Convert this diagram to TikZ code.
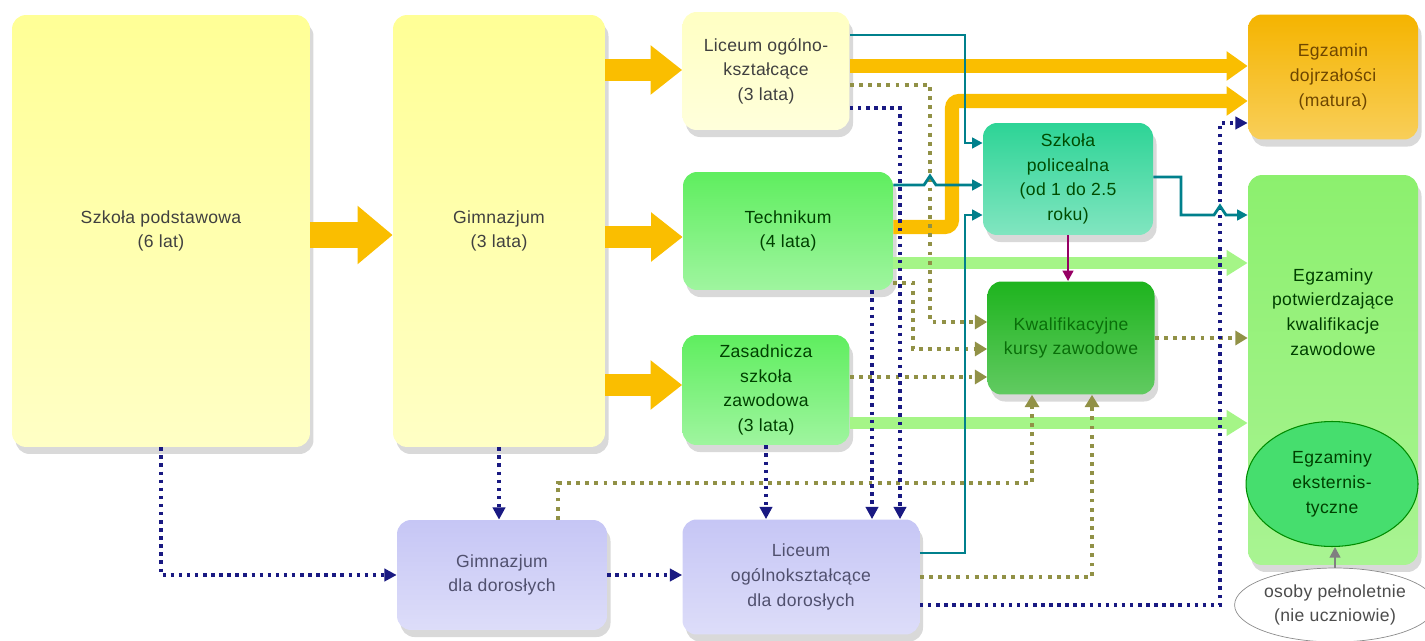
\documentclass[tikz,border=0pt]{standalone}
\usepackage{fontspec}
\setmainfont{Liberation Sans}[LetterSpace=2.0]
\usetikzlibrary{arrows.meta, shapes.geometric, shadows}

\definecolor{yel}{RGB}{255,255,150}
\definecolor{paleyel}{RGB}{255,255,195}
\definecolor{grn}{RGB}{95,238,95}
\definecolor{polgrn}{RGB}{45,212,150}
\definecolor{kurgrn}{RGB}{30,180,30}
\definecolor{egzgrn}{RGB}{140,240,110}
\definecolor{eksgrn}{RGB}{70,222,110}
\definecolor{lav}{RGB}{198,198,245}
\definecolor{orng}{RGB}{250,190,0}
\definecolor{matorng}{RGB}{245,180,0}
\definecolor{lgrn}{RGB}{165,245,135}
\definecolor{tealln}{RGB}{0,128,140}
\definecolor{navydot}{RGB}{25,25,130}
\definecolor{olivedot}{RGB}{145,145,70}
\definecolor{purp}{RGB}{150,0,100}

\begin{document}
\begin{tikzpicture}[x=0.02cm, y=-0.02cm,
    box/.style={rounded corners=8pt, align=center, inner sep=2pt,
        font=\fontsize{10}{14}\selectfont,
        drop shadow={opacity=0.3, shadow xshift=2pt, shadow yshift=-4pt}},
    bigarrow/.style={draw=orng, line width=13pt, -{Triangle[length=18pt, width=27pt]}},
    orngline/.style={draw=orng, line width=8pt, rounded corners=4pt, -{Triangle[length=12pt, width=16pt]}},
    grnline/.style={draw=lgrn, line width=7pt, -{Triangle[length=12pt, width=14pt]}},
    tealline/.style={draw=tealln, line width=1.6pt, -{Triangle[length=6pt, width=6pt]}},
    bluedot/.style={draw=navydot, line width=2pt, dash pattern=on 2pt off 2.6pt, -{Triangle[length=7pt, width=7pt]}},
    olivdot/.style={draw=olivedot, line width=1.8pt, dash pattern=on 2.2pt off 3pt, -{Triangle[length=7pt, width=8pt]}}]
\useasboundingbox (0,0) rectangle (1425,641);

% Schools
\node[box, top color=yel, bottom color=yel!55!white, text=black!75, minimum width=5.96cm, minimum height=8.64cm] (podst) at (161,231) {Szkoła podstawowa\\(6 lat)};
\node[box, top color=yel, bottom color=yel!55!white, text=black!75, minimum width=4.24cm, minimum height=8.64cm] (gim) at (499,231) {Gimnazjum\\(3 lata)};
\node[box, top color=paleyel, bottom color=paleyel!60!white, text=black!75, minimum width=3.34cm, minimum height=2.36cm] (lic) at (766,71) {Liceum ogólno-\\kształcące\\(3 lata)};
\node[box, top color=grn, bottom color=grn!60!white, text=green!25!black, minimum width=4.2cm, minimum height=2.36cm] (tech) at (788,231) {Technikum\\(4 lata)};
\node[box, top color=grn, bottom color=grn!60!white, text=green!25!black, minimum width=3.34cm, minimum height=2.2cm] (zsz) at (766,390) {Zasadnicza\\szkoła\\zawodowa\\(3 lata)};
\node[box, top color=polgrn, bottom color=polgrn!60!white, text=green!30!black, minimum width=3.4cm, minimum height=2.24cm] (polic) at (1068,179) {Szkoła\\policealna\\(od 1 do 2.5\\roku)};
\node[box, top color=kurgrn, bottom color=kurgrn!70!white, text={rgb,255:red,10;green,110;blue,10}, minimum width=3.34cm, minimum height=2.26cm] (kursy) at (1071,338) {Kwalifikacyjne\\kursy zawodowe};
\node[box, top color=lav, bottom color=lav!60!white, text={rgb,255:red,80;green,80;blue,110}, minimum width=4.2cm, minimum height=2.2cm] (gdd) at (502,575) {Gimnazjum\\dla dorosłych};
\node[box, top color=lav, bottom color=lav!60!white, text={rgb,255:red,80;green,80;blue,110}, minimum width=4.74cm, minimum height=2.3cm] (ldd) at (801,577) {Liceum\\ogólnokształcące\\dla dorosłych};

% Exams
\node[box, top color=matorng, bottom color=matorng!65!white, text={rgb,255:red,110;green,70;blue,0}, minimum width=3.4cm, minimum height=2.5cm] (matura) at (1333,77) {Egzamin\\dojrzałości\\(matura)};
\node[box, top color=egzgrn, bottom color=egzgrn!75!white, minimum width=3.4cm, minimum height=7.8cm] (egz) at (1333,370) {};
\node[align=center, font=\fontsize{10}{14}\selectfont, text=green!25!black] (egztxt) at (1333,312) {Egzaminy\\potwierdzające\\kwalifikacje\\zawodowe};
\node[ellipse, draw=green!55!black, line width=0.6pt, fill=eksgrn, align=center, inner sep=0pt, font=\fontsize{10}{14}\selectfont, text=green!25!black, minimum width=3.44cm, minimum height=2.5cm] (ekst) at (1332,484) {Egzaminy\\eksternis-\\tyczne};
\node[ellipse, draw=black!45, fill=white, align=center, inner sep=0pt, font=\fontsize{10}{14}\selectfont, text=black!70, minimum width=3.5cm, minimum height=1.48cm] (osoby) at (1335,605) {osoby pełnoletnie\\(nie uczniowie)};

% Thick arrows
\draw[bigarrow, line width=14.5pt, -{Triangle[length=20pt, width=32pt]}] (podst.east |- 0,235) -- (gim.west |- 0,235);
\draw[bigarrow] (gim.east |- 0,70) -- (lic.west |- 0,70);
\draw[bigarrow] (gim.east |- 0,237) -- (tech.west |- 0,237);
\draw[bigarrow] (gim.east |- 0,385) -- (zsz.west |- 0,385);
\draw[orngline] (lic.east |- 0,66) -- (matura.west |- 0,66);
\draw[orngline] (tech.east |- 0,227) -| (952,101) -- (matura.west |- 0,101);
\draw[grnline] (tech.east |- 0,263) -- (egz.west |- 0,263);
\draw[grnline] (zsz.east |- 0,423) -- (egz.west |- 0,423);

% Olive dotted
\draw[olivdot] (lic.east |- 0,85) -| (930,322) -- (kursy.west |- 0,322);
\draw[olivdot] (tech.east |- 0,283) -- (913,283) |- (kursy.west |- 0,349);
\draw[olivdot] (zsz.east |- 0,377) -- (kursy.west |- 0,377);
\draw[olivdot] (558,0 |- gdd.north) |- (1032,483) -- (1032,0 |- kursy.south);
\draw[olivdot] (ldd.east |- 0,577) -| (1092,0 |- kursy.south);
\draw[olivdot] (kursy.east) -- (kursy.east -| egz.west);

% Blue dotted
\draw[bluedot] (podst.south) |- (gdd.west);
\draw[bluedot] (gim.south) -- (gim.south |- gdd.north);
\draw[bluedot] (gdd.east) -- (gdd.east -| ldd.west);
\draw[bluedot] (zsz.south) -- (zsz.south |- ldd.north);
\draw[bluedot] (872,0 |- tech.south) -- (872,0 |- ldd.north);
\draw[bluedot] (lic.east |- 0,108) -| (900,0 |- ldd.north);
\draw[bluedot] (ldd.east |- 0,605) -| (1220,123) -- (matura.west |- 0,123);

% Teal lines
\draw[tealline] (lic.east |- 0,35) -| (965,143) -- (polic.west |- 0,143);
\draw[tealline] (tech.east |- 0,185) -- (924,185) -- (930,176) -- (936,185) -- (polic.west |- 0,185);
\draw[tealline] (ldd.east |- 0,553) -| (965,215) -- (polic.west |- 0,215);
\draw[tealline] (polic.east |- 0,177) -- (1181,177) -- (1181,215) -- (1214,215) -- (1220,206) -- (1226,215) -- (egz.west |- 0,215);

% Other
\draw[draw=purp, line width=1.6pt, -{Triangle[length=6pt, width=6pt]}] (polic.south) -- (polic.south |- kursy.north);
\draw[draw=black!50, line width=1.2pt, -{Triangle[length=6pt, width=6pt]}] (osoby.north) -- (osoby.north |- ekst.south);
\end{tikzpicture}
\end{document}
